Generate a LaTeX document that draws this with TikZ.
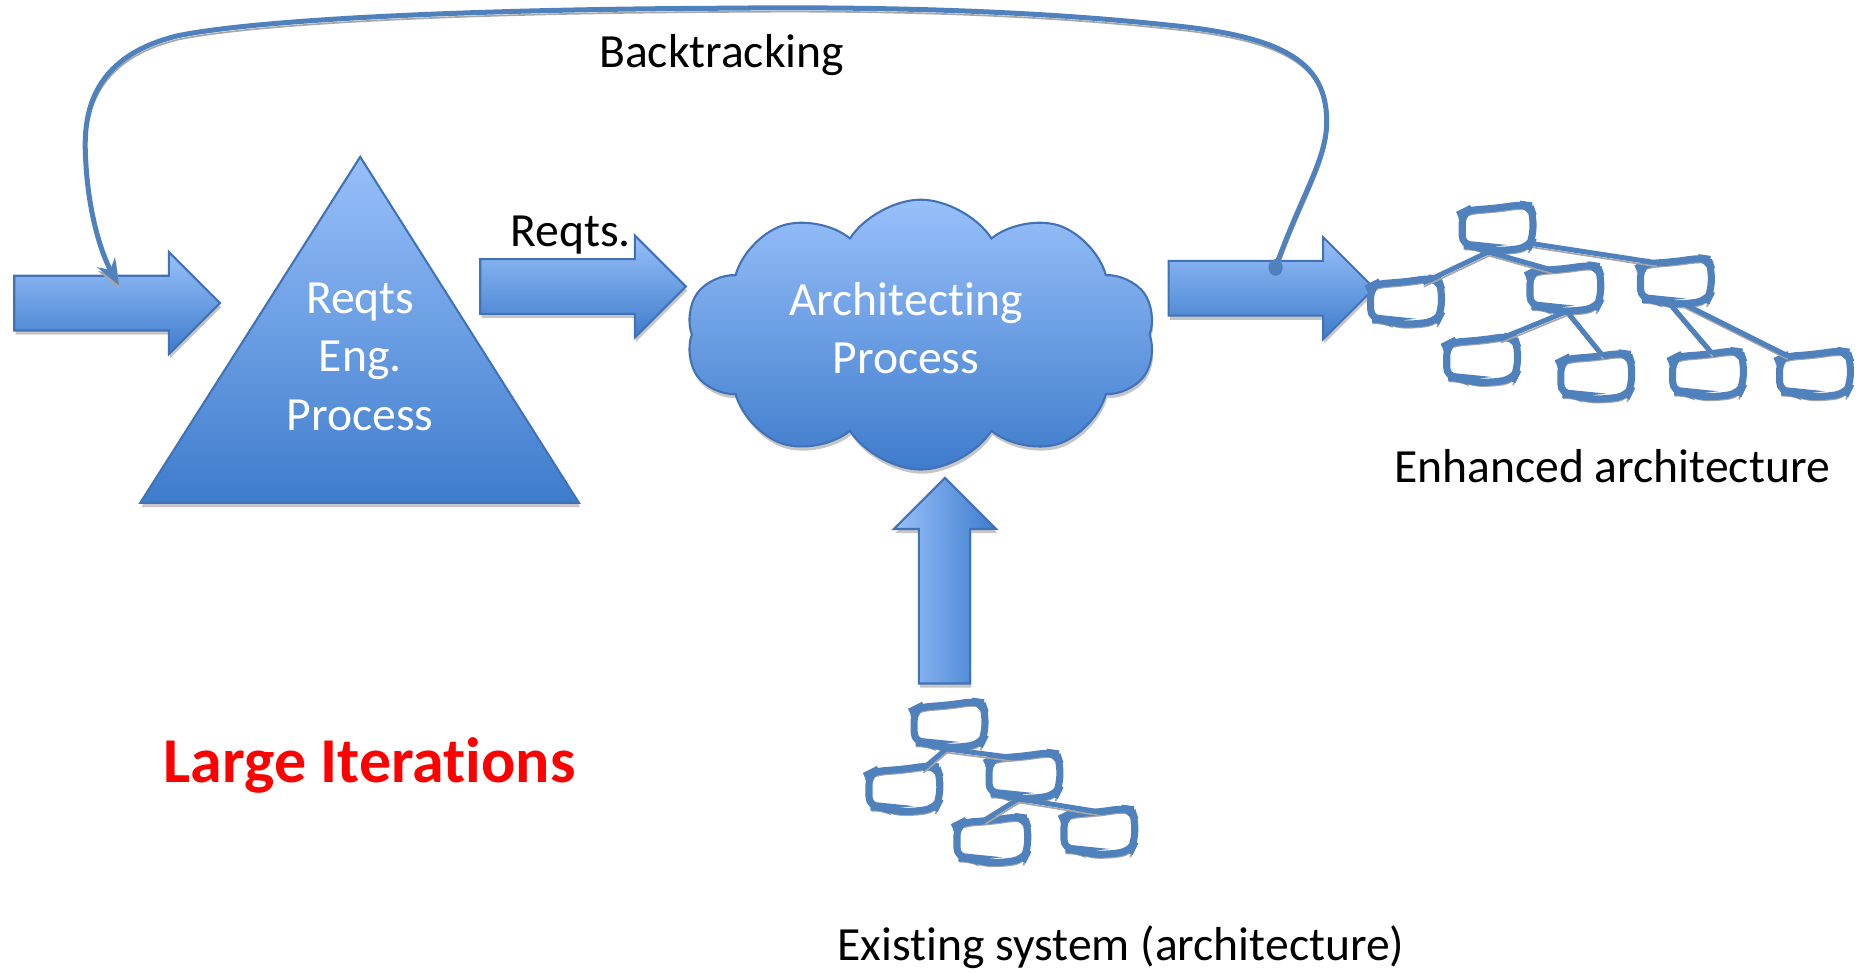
\documentclass[tikz,border=0pt]{standalone}
\usepackage{fontspec}
\setmainfont[Ligatures={NoCommon,NoContextual,NoRare},Contextuals=NoAlternate]{Carlito}
\usepackage{xcolor}
\definecolor{ofblue}{RGB}{79,129,189}
\definecolor{ofedge}{RGB}{66,114,182}
\definecolor{shadetop}{RGB}{152,192,250}
\definecolor{shadebot}{RGB}{62,124,204}
\usepackage{tikz}
\usetikzlibrary{arrows.meta,calc,shapes.symbols,shadows}

\begin{document}
\begin{tikzpicture}[
  proc/.style={draw=ofedge,line width=0.5pt,top color=shadetop,bottom color=shadebot,
               drop shadow={shadow xshift=0.3pt,shadow yshift=-1pt,opacity=0.45}},
  thinshade/.style={preaction={draw=black!35,transform canvas={shift={(0.2pt,-0.9pt)}}}},
  backline/.style={draw=ofblue,line width=1.2pt,thinshade,
                   -{Stealth[length=2.2mm,width=1.7mm]}},
  modbox/.style={minimum width=0.62cm,minimum height=0.38cm,inner sep=0pt},
  modline/.style={draw=ofblue,line width=1.7pt,rounded corners=2.5pt,thinshade},
  treeedge/.style={draw=ofblue,line width=1.2pt,thinshade},
  ontext/.style={text=white,font=\fontsize{11.4}{14}\selectfont,align=center},
  captxt/.style={text=black,font=\fontsize{11.4}{14}\selectfont},
]
  \useasboundingbox (0,0) rectangle (15.68,8.18);

  % block arrows feeding the processes
  \foreach \p in {(0.12,5.63),(4.04,5.77),(9.83,5.755)}
    \path[proc,shift={\p}] (0,-0.23) -- (1.30,-0.23) -- (1.30,-0.43) -- (1.73,0)
      -- (1.30,0.43) -- (1.30,0.23) -- (0,0.23) -- cycle;
  \path[proc,left color=shadetop,right color=shadebot]
    (7.73,2.43) -- (7.73,3.73) -- (7.52,3.73) -- (7.95,4.16) -- (8.38,3.73)
    -- (8.16,3.73) -- (8.16,2.43) -- cycle;

  % requirements triangle and architecting cloud
  \path[proc] (3.03,6.86) -- (4.87,3.95) -- (1.18,3.95) -- cycle;
  \node[ontext] (reqeng) at (3.03,5.18) {Reqts\\Eng.\\Process};
  \node[proc,cloud,cloud puffs=10,cloud puff arc=115,aspect=1.75,
        minimum width=3.95cm,minimum height=2.27cm,inner sep=0pt] (arch) at (7.745,5.365) {};
  \node[ontext] (archtxt) at (7.62,5.42) {Architecting\\Process};

  % backtracking loop
  \coordinate (bkfrom) at (10.73,5.93);
  \coordinate (bkto) at (1.00,5.78);
  \draw[backline] (bkfrom) .. controls (10.95,6.55) and (11.17,6.85) .. (11.16,7.18)
    .. controls (11.15,7.65) and (10.8,7.85) .. (10.0,7.95)
    .. controls (8.5,8.12) and (7.0,8.12) .. (6.0,8.11)
    .. controls (4.0,8.10) and (2.2,8.02) .. (1.5,7.88)
    .. controls (0.75,7.7) and (0.70,7.2) .. (0.72,6.85)
    .. controls (0.74,6.4) and (0.85,6.05) .. (bkto);
  \fill[ofblue] (bkfrom) ellipse (0.06 and 0.07);

  % enhanced architecture
  \node[modbox] (r)  at (12.60,6.26) {};
  \node[modbox] (n1) at (11.83,5.64) {};
  \node[modbox] (n2) at (13.17,5.75) {};
  \node[modbox] (n3) at (14.10,5.81) {};
  \node[modbox] (n4) at (12.47,5.15) {};
  \node[modbox] (n5) at (13.43,5.01) {};
  \node[modbox] (n6) at (14.37,5.03) {};
  \node[modbox] (n7) at (15.27,5.03) {};

  % existing system
  \node[modbox] (e1) at (7.99,2.08) {};
  \node[modbox] (e2) at (7.61,1.54) {};
  \node[modbox] (e3) at (8.62,1.65) {};
  \node[modbox] (e4) at (8.35,1.11) {};
  \node[modbox] (e5) at (9.25,1.18) {};

  \foreach \b in {r,n1,n2,n3,n4,n5,n6,n7,e1,e2,e3,e4,e5}
    \draw[modline,shift={(\b)}] (-0.30,0.13) -- (-0.26,0.15) -- (0.0,0.17) -- (0.20,0.20)
      -- (0.27,0.19) -- (0.30,0.10) -- (0.29,-0.10) -- (0.26,-0.16) -- (0.05,-0.19)
      -- (-0.12,-0.18) -- (-0.20,-0.14) -- (-0.30,-0.15) -- cycle;

  \draw[treeedge] ($(r)+(-0.08,-0.20)$) -- ($(n1)+(0.14,0.16)$);
  \draw[treeedge] ($(r)+(-0.08,-0.20)$) -- ($(n2)+(-0.12,0.16)$);
  \draw[treeedge] ($(r)+(0.29,-0.13)$) -- ($(n3)+(-0.17,0.16)$);
  \draw[treeedge] ($(n2)+(0.01,-0.19)$) -- ($(n4)+(0.15,0.18)$);
  \draw[treeedge] ($(n2)+(0.01,-0.19)$) -- ($(n5)+(0.05,0.18)$);
  \draw[treeedge] ($(n3)+(-0.05,-0.19)$) -- ($(n6)+(0.03,0.18)$);
  \draw[treeedge] ($(n3)+(0.05,-0.18)$) -- ($(n7)+(-0.24,0.16)$);

  \draw[treeedge] ($(e1)+(-0.03,-0.20)$) -- ($(e2)+(0.15,0.17)$);
  \draw[treeedge] ($(e1)+(-0.03,-0.20)$) -- ($(e3)+(-0.12,0.16)$);
  \draw[treeedge] ($(e3)+(-0.05,-0.19)$) -- ($(e4)+(-0.07,0.17)$);
  \draw[treeedge] ($(e3)+(-0.05,-0.19)$) -- ($(e5)+(0.0,0.17)$);

  % captions
  \node[captxt,anchor=base] (bktxt)  at (6.07,7.61) {Backtracking};
  \node[captxt,anchor=base] (reqtxt) at (4.80,6.11) {Reqts.};
  \node[captxt,anchor=base] (enhtxt) at (13.56,4.12) {Enhanced architecture};
  \node[captxt,anchor=base] (exitxt) at (9.43,0.10) {Existing system (architecture)};
  \node[text=red,font=\fontsize{15.3}{18}\selectfont\bfseries,anchor=base] (iter)
    at (3.11,1.60) {Large Iterations};
\end{tikzpicture}
\end{document}
